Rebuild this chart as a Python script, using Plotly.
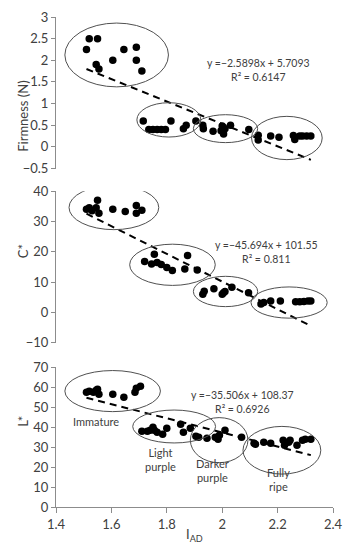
import plotly.graph_objects as go

# ---------------- data ----------------
# Firmness (N)
firm_x = [1.51, 1.52, 1.55, 1.545, 1.555, 1.605, 1.645, 1.69, 1.69, 1.71,
          1.715, 1.735, 1.75, 1.765, 1.78, 1.795, 1.815, 1.86, 1.87, 1.905,
          1.93, 1.932, 1.967, 1.996, 2.0, 2.005, 2.01, 2.03, 2.096,
          2.13, 2.13, 2.175, 2.205, 2.257, 2.262, 2.28, 2.29, 2.305, 2.32]
firm_y = [2.25, 2.5, 2.5, 1.9, 1.8, 2.0, 2.25, 2.3, 2.0, 1.75,
          0.6, 0.4, 0.4, 0.4, 0.4, 0.4, 0.6, 0.42, 0.5, 0.6,
          0.5, 0.42, 0.36, 0.37, 0.48, 0.3, 0.42, 0.5, 0.4,
          0.27, 0.16, 0.25, 0.22, 0.26, 0.17, 0.25, 0.25, 0.25, 0.25]

# C*
chroma_x = [1.51, 1.52, 1.53, 1.545, 1.55, 1.555, 1.605, 1.65, 1.69, 1.69, 1.71,
            1.72, 1.745, 1.755, 1.765, 1.78, 1.8, 1.82, 1.865, 1.875, 1.91,
            1.93, 1.935, 1.97, 2.0, 2.005, 2.01, 2.035, 2.095,
            2.14, 2.15, 2.175, 2.21, 2.265, 2.28, 2.295, 2.31, 2.32]
chroma_y = [34, 34.5, 33.5, 34.5, 37, 32.7, 34, 33.3, 35.3, 32.7, 33.7,
            16.8, 16, 19.2, 16.5, 15.8, 14.8, 13.8, 14.3, 18.8, 14,
            6, 7, 7.8, 6, 6.5, 6.9, 8.3, 6.5,
            2.8, 3.3, 3.8, 3.8, 3.5, 3.5, 3.6, 3.8, 3.8]

# L*
light_x = [1.51, 1.52, 1.535, 1.545, 1.55, 1.555, 1.605, 1.645, 1.685, 1.69, 1.705,
           1.71, 1.73, 1.74, 1.75, 1.755, 1.765, 1.785, 1.8, 1.85, 1.86, 1.885,
           1.905, 1.915, 1.945, 1.975, 1.985, 1.99, 2.01, 2.07,
           2.115, 2.12, 2.15, 2.175, 2.22, 2.225, 2.24, 2.245, 2.27, 2.29, 2.3, 2.32]
light_y = [57.5, 58, 57.5, 58.5, 59, 56.5, 56.5, 55, 57.5, 59.5, 60.5,
           38, 38, 38.5, 40, 38.5, 37.5, 36.5, 39.5, 41.5, 37.5, 39.5,
           35.5, 35, 34.5, 35, 34, 36, 38.5, 35,
           32, 31.5, 32.5, 32, 33.5, 31, 32.5, 33.5, 31, 33.5, 34, 34]

# linear fits (slope, intercept, R²)
fits = {
    "firm": (-2.5898, 5.7093, "0.6147"),
    "chroma": (-45.694, 101.55, "0.811"),
    "light": (-35.506, 108.37, "0.6926"),
}

# cluster ellipses: (x0, x1, y0, y1) per panel
firm_ell = [(1.432, 1.806, 1.386, 2.86), (1.692, 1.923, 0.227, 1.02),
            (1.896, 2.128, 0.098, 0.743), (2.106, 2.361, -0.295, 0.705)]
chroma_ell = [(1.447, 1.771, 27.3, 41.9), (1.666, 1.975, 8.9, 22.5),
              (1.896, 2.128, 1.9, 11.9), (2.104, 2.379, -1.9, 8.4)]
light_ell = [(1.432, 1.777, 47.8, 68.4), (1.677, 1.976, 32.1, 48.6),
             (1.885, 2.093, 22.2, 44.8), (2.075, 2.356, 16.5, 40.4)]

stage_labels = ["Immature", "Light<br>purple", "Darker<br>purple", "Fully<br>ripe"]
stage_pos = [(1.545, 43), (1.777, 24), (1.964, 18.5), (2.204, 14)]

x_ticks = [1.4, 1.6, 1.8, 2.0, 2.2, 2.4]
x_ticktext = ["1.4", "1.6", "1.8", "2", "2.2", "2.4"]

FONT = "Lato"
TXT = "#404040"
AX = "#8c8c8c"

fig = go.Figure()

panels = [
    ("firm", firm_x, firm_y, "y", firm_ell),
    ("chroma", chroma_x, chroma_y, "y2", chroma_ell),
    ("light", light_x, light_y, "y3", light_ell),
]

for key, xs, ys, yref, ells in panels:
    fig.add_trace(go.Scatter(x=xs, y=ys, mode="markers", xaxis="x", yaxis=yref,
                             marker=dict(color="black", size=7.5), showlegend=False,
                             hoverinfo="skip"))
    a, b, _ = fits[key]
    lx = [min(xs), max(xs)]
    ly = [a * v + b for v in lx]
    fig.add_trace(go.Scatter(x=lx, y=ly, mode="lines", xaxis="x", yaxis=yref,
                             line=dict(color="black", width=2, dash="7px,5px"),
                             showlegend=False, hoverinfo="skip"))
    for (x0, x1, y0, y1) in ells:
        fig.add_shape(type="circle", xref="x", yref=yref, x0=x0, x1=x1, y0=y0, y1=y1,
                      line=dict(color="#505050", width=1))

def eq_text(key):
    a, b, r2 = fits[key]
    return f"y =\u2212{abs(a):g}x + {b:g}<br>R² = {r2}"

eq_pos = {"firm": (2.13, 1.77, "y"), "chroma": (2.16, 19.8, "y2"), "light": (2.075, 52.7, "y3")}
for key, (ex, ey, yref) in eq_pos.items():
    fig.add_annotation(x=ex, y=ey, xref="x", yref=yref, text=eq_text(key), showarrow=False,
                       font=dict(family=FONT, size=10.5, color=TXT), align="center")

for lab, (sx, sy) in zip(stage_labels, stage_pos):
    fig.add_annotation(x=sx, y=sy, xref="x", yref="y3", text=lab, showarrow=False,
                       font=dict(family=FONT, size=11, color=TXT), align="center")

# axis titles
titles = [("Firmness (N)", 0.873), ("C*", 0.522), ("L*", 0.159)]
for t, yp in titles:
    fig.add_annotation(x=-0.155, y=yp, xref="paper", yref="paper", text=t, textangle=-90,
                       showarrow=False, font=dict(family=FONT, size=13, color=TXT))
fig.add_annotation(x=0.5, y=-0.058, xref="paper", yref="paper", text="I<sub>AD</sub>",
                   showarrow=False, font=dict(family=FONT, size=13, color=TXT), yanchor="middle")

yax_common = dict(showline=True, linecolor=AX, linewidth=1, ticks="outside", ticklen=4,
                  tickcolor=AX, showgrid=False, zeroline=False,
                  tickfont=dict(family=FONT, size=13, color=TXT), anchor="x")

fig.update_layout(
    width=352, height=550,
    margin=dict(l=56, r=11, t=9, b=43),
    paper_bgcolor="white", plot_bgcolor="white",
    xaxis=dict(range=[1.4, 2.4], tickvals=x_ticks, ticktext=x_ticktext, showline=True,
               linecolor=AX, linewidth=1, ticks="outside", ticklen=5, tickcolor=AX,
               showgrid=False, zeroline=False, anchor="y3",
               tickfont=dict(family=FONT, size=13, color=TXT)),
    yaxis=dict(range=[-0.5, 3], tickvals=[-0.5, 0, 0.5, 1, 1.5, 2, 2.5, 3],
               domain=[0.6908, 1.0], **yax_common),
    yaxis2=dict(range=[-10, 40], tickvals=[-10, 0, 10, 20, 30, 40],
                domain=[0.3353, 0.6446], **yax_common),
    yaxis3=dict(range=[0, 70], tickvals=[0, 10, 20, 30, 40, 50, 60, 70],
                domain=[0.0, 0.285], **yax_common),
)

fig.write_html("out.html", config={"displayModeBar": False},
               post_script="document.body.style.margin='0';document.body.style.overflow='hidden';")
